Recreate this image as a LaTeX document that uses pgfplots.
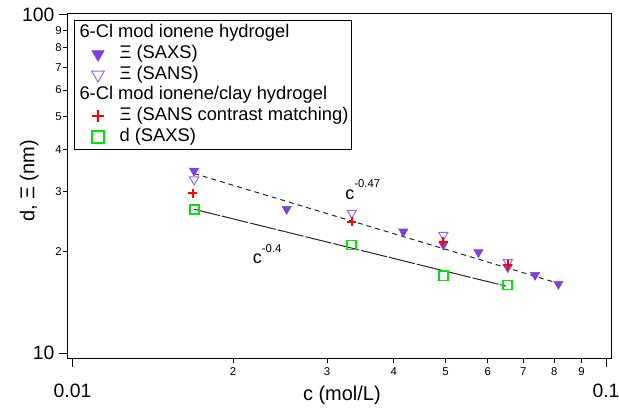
\documentclass[border=0pt]{standalone}
\usepackage{fontspec}
\setmainfont{Liberation Sans}
\usepackage{pgfplots}
\pgfplotsset{compat=1.18}
\definecolor{purp}{RGB}{128,64,224}
\definecolor{lpurp}{RGB}{150,100,240}
\definecolor{limeg}{RGB}{0,230,0}
\begin{document}
\begin{tikzpicture}
\useasboundingbox (0,0) rectangle (464.25pt,306pt);
\begin{axis}[
  at={(50.5pt,36.75pt)}, anchor=south west,
  scale only axis, width=407.8pt, height=259.3pt,
  xmode=log, ymode=log,
  xmin=0.009778, xmax=0.10218, ymin=9.619, ymax=101.16,
  axis line style={line width=0.75pt},
  tick align=outside, tick style={black, line width=0.75pt},
  xtick pos=bottom, ytick pos=left,
  /pgf/number format/assume math mode=true,
  minor xtick={}, minor ytick={},
  major tick length=3pt,
  xtick={0.02,0.03,0.04,0.05,0.06,0.07,0.08,0.09},
  xticklabels={2,3,4,5,6,7,8,9},
  ytick={20,30,40,50,60,70,80,90},
  yticklabels={2,3,4,5,6,7,8,9},
  xticklabel style={font=\fontsize{8.5}{9}\selectfont, inner sep=0pt, yshift=-3.5pt},
  yticklabel style={font=\fontsize{8.5}{9}\selectfont, inner sep=0pt, xshift=-1pt},
  extra x ticks={0.01,0.1}, extra x tick labels={0.01,0.1},
  extra x tick style={major tick length=6pt, xticklabel style={font=\fontsize{14.5}{16}\selectfont, yshift=-9pt}},
  extra y ticks={10,100}, extra y tick labels={10,100},
  extra y tick style={major tick length=6pt, yticklabel style={font=\fontsize{14.5}{16}\selectfont, xshift=-2.5pt}},
  xlabel={c (mol/L)},
  xlabel style={at={(axis description cs:0.505,-0.104)}, anchor=center, font=\fontsize{15}{18}\selectfont},
  ylabel={d, Ξ (nm)},
  ylabel style={at={(axis description cs:-0.07,0.515)}, anchor=center, font=\fontsize{15}{18}\selectfont},
  legend cell align=left,
  legend style={at={(axis description cs:0.0123,0.9806)}, anchor=north west,
    draw=black, line width=0.75pt, fill=white, inner xsep=2.25pt, inner ysep=2pt,
    font=\fontsize{13.75}{15.5}\selectfont, row sep=0pt, column sep=8.75pt,
    nodes={inner sep=0pt, text height=11pt, text depth=4.5pt}},
  legend image code/.code={\path (0pt,0pt) (22pt,0pt); \draw[#1, every mark/.append style={scale=1.35}] plot coordinates {(15pt,0pt)};},
]
% fit lines
\addplot[forget plot, black!85, line width=0.75pt, dash pattern=on 3.75pt off 3pt] coordinates {(0.0169,34.0) (0.0814,16.1)};
\addplot[forget plot, black!85, line width=0.75pt, dash pattern=on 20pt off 1.5pt] coordinates {(0.0169,26.65) (0.0649,15.8)};

\addlegendimage{empty legend}
\addlegendentry{\hspace*{-30pt}6-Cl mod ionene hydrogel}
\addplot[only marks, mark=triangle*, mark size=4pt, mark options={rotate=180, fill=purp, draw=purp, line width=0.4pt}] coordinates {
(0.0169,34.6) (0.0252,26.7) (0.04169,22.88) (0.04955,20.94) (0.05764,19.89) (0.06544,17.96) (0.0736,17.04) (0.08141,16.03)};
\addlegendentry{Ξ (SAXS)}
\addplot[only marks, mark=triangle, mark size=4pt, mark options={rotate=180, draw=lpurp, line width=0.75pt}] coordinates {
(0.0169,32.6) (0.03337,25.98) (0.04955,22.37) (0.06544,18.58)};
\addlegendentry{Ξ (SANS)}
\addlegendimage{empty legend}
\addlegendentry{\hspace*{-30pt}6-Cl mod ionene/clay hydrogel}
\addplot[only marks, mark=+, mark size=3.4pt, mark options={draw=red, line width=1.4pt}] coordinates {
(0.0168,29.72) (0.03337,24.49) (0.04955,21.38) (0.06544,18.24)};
\addlegendentry{Ξ (SANS contrast matching)}
\addplot[only marks, mark=square, mark size=3.4pt, mark options={draw=limeg, line width=1.4pt}] coordinates {
(0.0169,26.65) (0.03337,20.90) (0.04955,16.93) (0.06544,15.92)};
\addlegendentry{d (SAXS)}

\node[anchor=base west, inner sep=0pt, font=\fontsize{13.5}{15}\selectfont] at (axis cs:0.03242,28.52) {c\raisebox{8.7pt}{\fontsize{8.5}{9}\selectfont -0.47}};
\node[anchor=base west, inner sep=0pt, font=\fontsize{13.5}{15}\selectfont] at (axis cs:0.02176,18.37) {c\raisebox{8.7pt}{\fontsize{8.5}{9}\selectfont -0.4}};
\end{axis}
\end{tikzpicture}
\end{document}
